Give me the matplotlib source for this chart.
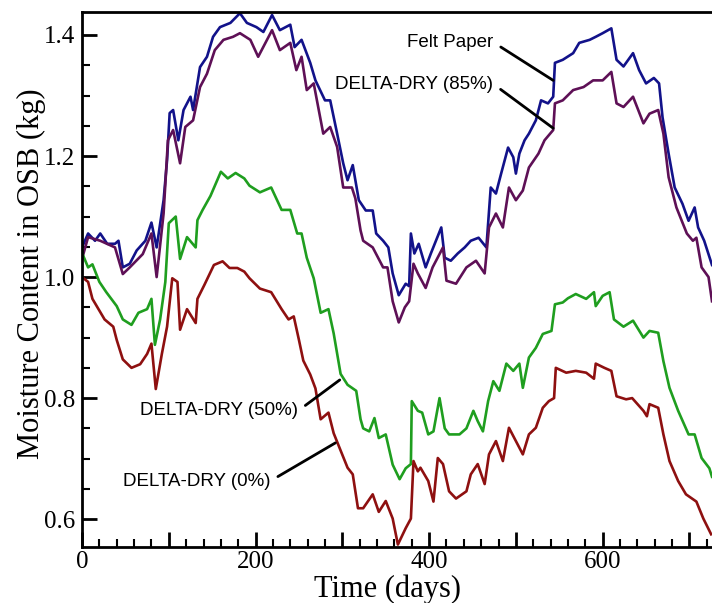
import matplotlib
matplotlib.use("Agg")
import matplotlib.pyplot as plt
from matplotlib.ticker import MultipleLocator, FuncFormatter

# Felt Paper
dias_felt = [0, 7, 15, 21, 29, 38, 42, 47, 55, 63, 73, 80, 86, 94, 98, 101, 105, 111, 117, 125,
             128, 136, 144, 151, 159, 171, 182, 190, 201, 209, 219, 228, 240, 245, 253, 263, 269, 280,
             286, 294, 301, 306, 312, 319, 327, 335, 339, 347, 353, 358, 365, 373, 377, 379, 383, 388,
             396, 402, 414, 418, 425, 433, 441, 448, 457, 466, 471, 477, 483, 491, 497, 500, 504, 510,
             515, 523, 529, 537, 543, 545, 554, 566, 573, 585, 592, 600, 610, 616, 624, 635, 642, 650,
             659, 665, 669, 676, 683, 692, 699, 706, 710, 717, 726]
felt = [1.049, 1.072, 1.060, 1.072, 1.055, 1.055, 1.060, 1.016, 1.022, 1.044, 1.060, 1.090, 1.049,
        1.127, 1.193, 1.271, 1.276, 1.226, 1.276, 1.298, 1.276, 1.347, 1.364, 1.397, 1.413, 1.420,
        1.436, 1.420, 1.413, 1.405, 1.433, 1.408, 1.417, 1.380, 1.392, 1.354, 1.325, 1.292, 1.292,
        1.237, 1.188, 1.160, 1.185, 1.127, 1.110, 1.110, 1.072, 1.060, 1.049, 1.006, 0.970, 0.989,
        0.985, 1.072, 1.039, 1.055, 1.016, 1.039, 1.082, 1.032, 1.027, 1.039, 1.049, 1.060, 1.065,
        1.049, 1.148, 1.138, 1.171, 1.214, 1.198, 1.171, 1.204, 1.226, 1.237, 1.259, 1.292, 1.287,
        1.298, 1.354, 1.359, 1.370, 1.387, 1.392, 1.397, 1.403, 1.411, 1.359, 1.348, 1.370, 1.342,
        1.320, 1.329, 1.320, 1.264, 1.204, 1.148, 1.121, 1.093, 1.115, 1.082, 1.060, 1.020]

# DELTA-DRY (85%)
dias_85 = [0, 7, 21, 38, 47, 55, 70, 80, 86, 94, 99, 105, 113, 119, 128, 136, 144, 153, 163, 174,
           182, 194, 203, 219, 228, 240, 247, 253, 259, 267, 278, 286, 294, 301, 311, 315, 321, 324,
           335, 347, 352, 358, 365, 372, 377, 382, 387, 396, 404, 416, 420, 431, 443, 454, 464, 469,
           477, 485, 492, 500, 508, 515, 526, 533, 543, 545, 554, 566, 578, 589, 600, 610, 616, 624,
           635, 647, 654, 664, 670, 676, 685, 697, 704, 708, 714, 722, 726]
dd85 = [1.030, 1.066, 1.060, 1.049, 1.005, 1.016, 1.038, 1.072, 1.000, 1.105, 1.226, 1.243, 1.188,
        1.248, 1.259, 1.314, 1.336, 1.375, 1.392, 1.397, 1.403, 1.392, 1.364, 1.408, 1.375, 1.387,
        1.342, 1.364, 1.309, 1.320, 1.237, 1.248, 1.215, 1.148, 1.148, 1.130, 1.077, 1.060, 1.049,
        1.016, 1.016, 0.960, 0.925, 0.950, 0.960, 1.022, 1.006, 0.982, 1.016, 1.049, 0.994, 0.989,
        1.016, 1.027, 1.006, 1.082, 1.105, 1.082, 1.148, 1.127, 1.143, 1.181, 1.204, 1.226, 1.243,
        1.287, 1.292, 1.309, 1.314, 1.325, 1.325, 1.339, 1.287, 1.281, 1.298, 1.254, 1.270, 1.276,
        1.237, 1.165, 1.115, 1.072, 1.060, 1.065, 1.016, 1.000, 0.960]

# DELTA-DRY (50%)
dias_50 = [0, 7, 12, 20, 28, 40, 47, 57, 65, 75, 80, 84, 90, 96, 100, 108, 113, 121, 131, 133,
           139, 148, 160, 168, 177, 187, 193, 205, 218, 230, 240, 248, 253, 259, 267, 275, 284, 290,
           298, 306, 316, 321, 324, 331, 337, 342, 350, 358, 366, 373, 379, 380, 387, 392, 399, 405,
           412, 418, 423, 435, 443, 451, 456, 462, 468, 474, 481, 489, 497, 504, 508, 515, 523, 531,
           541, 545, 554, 560, 569, 581, 590, 592, 600, 608, 613, 624, 635, 647, 654, 664, 670, 677,
           687, 699, 706, 714, 723, 726]
dd50 = [1.040, 1.016, 1.021, 0.992, 0.975, 0.952, 0.930, 0.921, 0.941, 0.947, 0.964, 0.888, 0.930,
        0.992, 1.089, 1.100, 1.030, 1.066, 1.049, 1.094, 1.111, 1.134, 1.174, 1.163, 1.172, 1.163,
        1.151, 1.140, 1.148, 1.111, 1.111, 1.072, 1.072, 1.032, 0.998, 0.941, 0.947, 0.907, 0.840,
        0.822, 0.812, 0.765, 0.750, 0.745, 0.767, 0.734, 0.740, 0.690, 0.666, 0.684, 0.691, 0.795,
        0.779, 0.776, 0.740, 0.745, 0.800, 0.750, 0.740, 0.740, 0.750, 0.779, 0.762, 0.745, 0.795,
        0.828, 0.812, 0.857, 0.845, 0.857, 0.817, 0.867, 0.883, 0.906, 0.911, 0.955, 0.958, 0.965,
        0.972, 0.964, 0.975, 0.952, 0.969, 0.975, 0.930, 0.918, 0.928, 0.900, 0.911, 0.908, 0.861,
        0.817, 0.779, 0.740, 0.740, 0.701, 0.684, 0.670]

# DELTA-DRY (0%)
dias_0 = [0, 7, 12, 26, 36, 40, 47, 57, 67, 75, 80, 85, 92, 98, 104, 110, 113, 121, 131, 133, 141,
          152, 162, 170, 179, 187, 193, 205, 218, 230, 238, 244, 250, 255, 263, 269, 275, 284, 290,
          297, 306, 312, 318, 324, 335, 342, 350, 358, 364, 373, 379, 382, 387, 390, 399, 405, 410,
          416, 423, 431, 443, 448, 456, 464, 469, 477, 485, 492, 500, 508, 515, 523, 531, 538, 544,
          546, 558, 569, 581, 590, 592, 602, 610, 616, 627, 634, 647, 651, 654, 664, 670, 677, 687,
          696, 708, 716, 725]
dd0 = [1.000, 0.992, 0.964, 0.930, 0.918, 0.896, 0.864, 0.850, 0.856, 0.873, 0.890, 0.815, 0.873,
       0.918, 0.998, 0.992, 0.913, 0.947, 0.924, 0.964, 0.987, 1.020, 1.026, 1.015, 1.015, 1.009,
       0.998, 0.981, 0.975, 0.947, 0.930, 0.935, 0.896, 0.862, 0.839, 0.816, 0.765, 0.776, 0.742,
       0.717, 0.685, 0.674, 0.618, 0.618, 0.641, 0.612, 0.630, 0.601, 0.558, 0.585, 0.601, 0.696,
       0.679, 0.685, 0.663, 0.629, 0.701, 0.691, 0.646, 0.634, 0.646, 0.674, 0.691, 0.658, 0.707,
       0.729, 0.696, 0.751, 0.729, 0.707, 0.740, 0.751, 0.784, 0.795, 0.800, 0.850, 0.842, 0.845,
       0.842, 0.832, 0.857, 0.850, 0.845, 0.803, 0.798, 0.800, 0.779, 0.770, 0.790, 0.784, 0.740,
       0.696, 0.663, 0.641, 0.629, 0.601, 0.575]

serif = "Liberation Serif"
sans = "Liberation Sans"

fig = plt.figure(figsize=(7.12, 6.03), dpi=100)
ax = fig.add_axes([0.1152, 0.0929, 0.8848, 0.8872])

ax.plot(dias_felt, felt, color="#12128a", lw=1.9)
ax.plot(dias_85, dd85, color="#5e1056", lw=1.9)
ax.plot(dias_50, dd50, color="#1f9e1f", lw=1.9)
ax.plot(dias_0, dd0, color="#8e1010", lw=1.9)

ax.set_xlim(0, 726)
ax.set_ylim(0.554, 1.438)

ax.xaxis.set_major_locator(MultipleLocator(100))
ax.xaxis.set_minor_locator(MultipleLocator(20))
ax.xaxis.set_major_formatter(FuncFormatter(lambda v, p: "%d" % v if int(round(v)) % 200 == 0 else ""))
ax.yaxis.set_major_locator(MultipleLocator(0.2))
ax.yaxis.set_minor_locator(MultipleLocator(0.05))
ax.yaxis.set_major_formatter(FuncFormatter(lambda v, p: "%.1f" % v))

ax.tick_params(which="major", direction="in", length=11, width=2, labelsize=18, pad=5)
ax.tick_params(axis="x", which="major", pad=3)
ax.tick_params(which="minor", direction="in", length=5.5, width=1.5)
ax.tick_params(top=False, right=False)
for lbl in ax.get_xticklabels() + ax.get_yticklabels():
    lbl.set_fontfamily(serif)

for s in ["left", "bottom", "top"]:
    ax.spines[s].set_linewidth(2)
ax.spines["right"].set_visible(False)

fig.text(387 / 712, 1 - 597 / 603, "Time (days)", fontsize=22, family=serif, ha="center", va="baseline")
fig.text(31 / 712, 1 - 274 / 603, "Moisture Content in OSB (kg)", fontsize=22, family=serif,
         rotation=90, ha="center", va="center")

# etiquetas con linea
etiquetas = [
    ("Felt Paper", (474, 1.388), (543, 1.325)),
    ("DELTA-DRY (85%)", (474, 1.319), (543, 1.246)),
    ("DELTA-DRY (50%)", (249, 0.779), (297, 0.830)),
    ("DELTA-DRY (0%)", (217, 0.663), (292, 0.726)),
]
for texto, pos_texto, pos_linea in etiquetas:
    ax.annotate(texto, xy=pos_linea, xytext=pos_texto, ha="right", va="center",
                fontsize=13.5, family=sans,
                arrowprops=dict(arrowstyle="-", lw=2, color="black", shrinkA=4, shrinkB=0,
                                relpos=(1, 0.5)))

plt.savefig("out.png", dpi=100)
plt.close()
